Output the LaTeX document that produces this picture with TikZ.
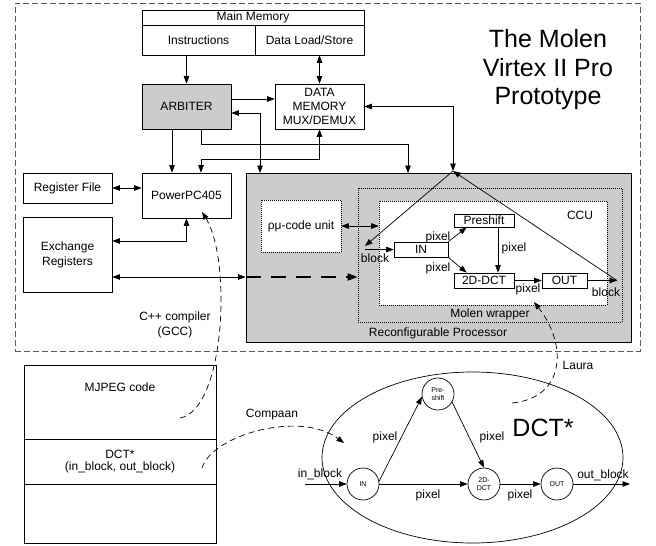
\documentclass[tikz,border=0pt]{standalone}
\usepackage{fontspec}
\setmainfont{Liberation Sans}
\usetikzlibrary{arrows.meta,shapes.geometric,calc}
\begin{document}
\begin{tikzpicture}[x=1pt,y=-1pt, line width=0.7pt,
  font=\fontsize{12}{14}\selectfont,
  >={Triangle[length=7.5pt,width=5.5pt]},
  sz/.style 2 args={minimum width=#1pt, minimum height=#2pt},
  box/.style={draw, fill=white, inner sep=0pt, align=center},
  graybox/.style={box, fill=black!20},
  dotbox/.style={draw, dash pattern=on 1pt off 1pt, inner sep=0pt, align=center},
  flow/.style={->, dash pattern=on 6pt off 4pt},
  circ/.style={draw, circle, minimum size=32pt, inner sep=0pt, align=center, font=\fontsize{7}{7.5}\selectfont},
  lbl/.style={inner sep=0pt, align=center}
]
\useasboundingbox (0,0) rectangle (656,546);

% outer prototype frame
\node[draw=black!65, dash pattern=on 6pt off 3pt, inner sep=0pt, sz={625}{348}] (proto) at (327.5,177) {};
\node[lbl, font=\fontsize{25}{28.5}\selectfont] (title) at (548,70) {The Molen\\Virtex II Pro\\Prototype};

% main memory
\node[box, sz={222}{15.5}] (mmtitle) at (253,17.75) {Main Memory};
\node[box, sz={113}{29.5}] (instr) at (198.5,40.25) {Instructions};
\node[box, sz={109}{29.5}] (dls) at (309.5,40.25) {Data Load/Store};

\node[graybox, sz={89}{45}] (arbiter) at (186.5,106.5) {ARBITER};
\node[box, sz={89}{45}] (dmem) at (319.5,106.5) {DATA\\MEMORY\\MUX/DEMUX};

\node[box, sz={89}{30}] (regfile) at (67.5,188) {Register File};
\node[box, sz={89}{45}] (ppc) at (186.5,195.5) {PowerPC405};
\node[box, sz={89}{75}, font=\fontsize{12}{15}\selectfont] (exch) at (67.5,254.5) {Exchange\\Registers};

% reconfigurable processor
\node[graybox, sz={385}{169}] (rp) at (438.5,257.5) {};
\node[lbl] (rplbl) at (438,333) {Reconfigurable Processor};
\node[dotbox, sz={264}{134}] (wrap) at (490,255) {};
\node[lbl] (wraplbl) at (490,314) {Molen wrapper};
\node[dotbox, fill=white, sz={228}{104}] (ccu) at (493,253) {};
\node[lbl] (cculbl) at (580,215) {CCU};
\node[dotbox, fill=white, sz={80}{52}] (rmu) at (301,226) {ρμ-code unit};

\node[box, sz={60}{13}] (preshift) at (484,220.5) {Preshift};
\node[box, sz={54}{15}] (in) at (421,249.5) {IN};
\node[box, sz={60}{15}] (dct) at (484,280.5) {2D-DCT};
\node[box, sz={45}{15}] (out) at (564.5,280.5) {OUT};

\coordinate (k260) at (260,173);
\coordinate (k408) at (408,173);
\coordinate (apex) at (453,171);
\coordinate (bl) at (365,246);
\coordinate (br) at (617,280.5);

% top connections
\draw[->] (arbiter.north |- instr.south) -- (arbiter.north);
\draw[<->] (dmem.north |- dls.south) -- (dmem.north);
\draw[->] ([yshift=7.5pt]arbiter.east) -- ([yshift=7.5pt]dmem.west);
\draw[<->] ([yshift=-6.5pt]arbiter.east) -| (k260);
\draw[->] ([xshift=-14.5pt]arbiter.south) -- ([xshift=-14.5pt]ppc.north);
\draw[->] ([xshift=14.5pt]arbiter.south) -- ++(0,15) -| (k408);
\draw[<->] (dmem.south) -- ++(0,30) -| ([xshift=14.5pt]ppc.north);
\draw[<->] (regfile.east) -- (regfile.east -| ppc.west);
\draw[<->] (ppc.south) |- ([yshift=13.5pt]exch.east);
\coordinate (e1) at ([yshift=-22.5pt]exch.east);
\draw[<->] (e1) -- (e1 -| rp.west);
\draw[->, line width=2pt, dash pattern=on 15pt off 10pt, >={Triangle[length=10pt,width=7pt]}] (e1 -| rp.west) -- (e1 -| wrap.west);
\draw[<->] (rmu.east) -- (rmu.east -| ccu.west);

% CCU paths
\draw[<->] (dmem.east) -| (apex);
\draw[->] (apex) -- (bl);
\draw[->] (bl |- in.west) -- (in.west);
\draw[->] (out.east) -- (br);
\draw[->] (br) -- (apex);
\draw[->] (in.north east) -- ([xshift=13pt]preshift.south west);
\draw[->] (in.south east) -- ([xshift=13pt]dct.north west);
\draw[->] ([xshift=14pt]preshift.south) -- ([xshift=14pt]dct.north);
\draw[->] (dct.east) -- (out.west);
\node[lbl] (p1) at (438,237) {pixel};
\node[lbl] (p2) at (438,268) {pixel};
\node[lbl] (p3) at (514,248) {pixel};
\node[lbl] (p4) at (528,289) {pixel};
\node[lbl] (blk1) at (375,258) {block};
\node[lbl] (blk2) at (606,292) {block};

% MJPEG code
\node[box, sz={192}{74}] (mj1) at (120,402) {};
\node[lbl] (mjlbl) at (120,387) {MJPEG code};
\node[box, sz={192}{45}, font=\fontsize{12}{12.5}\selectfont] (mj2) at (120,461.5) {DCT*\\(in\_block, out\_block)};
\node[box, sz={192}{59}] (mj3) at (120,513.5) {};

% DCT* process network
\node[draw, ellipse, inner sep=0pt, sz={301}{171}] (dctstar) at (472.5,457.5) {};
\node[lbl, font=\fontsize{25}{28}\selectfont] (dctlbl) at (543,428) {DCT*};
\node[circ] (cpre) at (438,394) {Pre-\\shift};
\node[circ] (cin) at (363,484) {IN};
\node[circ] (cdct) at (484,484) {2D-\\DCT};
\node[circ] (cout) at (557,484) {OUT};
\coordinate (ib) at (305,484);
\coordinate (ob) at (630,484);
\draw[->] (cin.10) -- (cpre.190);
\draw[->] (cpre.-30) -- (cdct.north);
\draw[->] (cin.east) -- (cdct.west);
\draw[->] (cdct.east) -- (cout.west);
\draw[->] (ib) -- (cin.west);
\draw[->] (cout.east) -- (ob);
\node[lbl] (q1) at (385,437) {pixel};
\node[lbl] (q2) at (492,437) {pixel};
\node[lbl] (q3) at (428,495) {pixel};
\node[lbl] (q4) at (520,495) {pixel};
\node[lbl] (inb) at (320,474) {in\_block};
\node[lbl] (outb) at (603,475) {out\_block};

% tool flows
\coordinate (g0) at (180,418);
\coordinate (g1) at (202,212);
\draw[flow] (g0) .. controls (225,410) and (232,260) .. (g1);
\node[lbl, font=\fontsize{12}{15.5}\selectfont] (gcc) at (175,325) {C++ compiler\\(GCC)};
\coordinate (c0) at (202,468);
\coordinate (c1) at (344,443);
\draw[flow] (c0) .. controls (212,435) and (300,410) .. (c1);
\node[lbl] (compaan) at (272,415) {Compaan};
\coordinate (l0) at (512,403);
\coordinate (l1) at (534,302);
\draw[flow] (l0) .. controls (565,398) and (568,345) .. (l1);
\node[lbl] (laura) at (578,365) {Laura};
\end{tikzpicture}
\end{document}
